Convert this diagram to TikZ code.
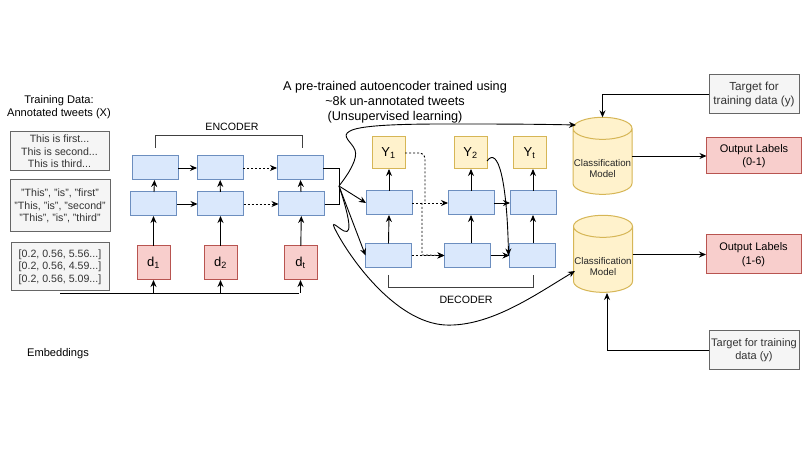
\documentclass[tikz,border=0pt]{standalone}
\usepackage{fontspec}
\setmainfont{Liberation Sans}
\usepackage{tikz}
\usetikzlibrary{arrows.meta,positioning,shapes.geometric}
\definecolor{cellfill}{HTML}{DAE8FC}
\definecolor{celldraw}{HTML}{6C8EBF}
\definecolor{redfill}{HTML}{F8CECC}
\definecolor{reddraw}{HTML}{B85450}
\definecolor{yelfill}{HTML}{FFF2CC}
\definecolor{yeldraw}{HTML}{D6B656}
\definecolor{grayfill}{HTML}{F5F5F5}
\definecolor{graydraw}{HTML}{666666}
\newcommand{\fsz}[2]{\fontsize{#1}{#2}\selectfont}

\begin{document}
\begin{tikzpicture}[
    x=1pt, y=-1pt,
    >={Stealth[length=7pt,width=6pt]},
    every node/.style={outer sep=0pt, inner sep=1pt},
    cell/.style={rectangle, draw=celldraw, fill=cellfill, line width=1pt,
                 minimum width=46pt, minimum height=24pt},
    tok/.style={rectangle, draw=reddraw, fill=redfill, line width=1pt,
                minimum width=33pt, minimum height=34pt, font=\fsz{13}{15}},
    outp/.style={rectangle, draw=yeldraw, fill=yelfill, line width=1pt,
                 minimum width=33pt, minimum height=32pt, font=\fsz{13}{15}},
    sample/.style={rectangle, draw=graydraw, fill=grayfill, line width=1pt,
                   align=center, text=black!80, font=\fsz{10.6}{12.6}},
    target/.style={sample, minimum width=90pt, minimum height=39pt},
    labels/.style={rectangle, draw=reddraw, fill=redfill, line width=1pt,
                   align=center, minimum width=95pt, font=\fsz{11}{13.5}},
    model/.style={cylinder, shape border rotate=90, aspect=11, draw=yeldraw,
                  fill=yelfill, cylinder uses custom fill,
                  cylinder body fill=yelfill, cylinder end fill=yelfill,
                  line width=1pt, minimum width=59pt, minimum height=77pt},
    modeltext/.style={font=\fsz{9.7}{11}, align=center, text=black!85},
    plain/.style={align=center, font=\fsz{11.1}{13}},
    arr/.style={->, line width=0.9pt},
    dasharr/.style={->, line width=0.9pt, dash pattern=on 2pt off 2pt},
    brace/.style={line width=1pt, draw=black!75}
  ]
  \useasboundingbox (0,0) rectangle (807,454);

  % data on the left
  \node[plain] (train) at (59,107.5) {Training Data:\\Annotated tweets (X)};
  \node[sample, minimum width=99pt, minimum height=39pt] (sents) at (59.5,151.5)
    {This is first...\\This is second...\\This is third...};
  \node[sample, minimum width=100pt, minimum height=52pt] (words) at (60,206)
    {"This", "is", "first"\\"This, "is", "second"\\"This", "is", "third"};
  \node[sample, minimum width=98pt, minimum height=48pt] (vecs) at (60,267)
    {{[0.2, 0.56, 5.56...]}\\{[0.2, 0.56, 4.59...]}\\{[0.2, 0.56, 5.09...]}};
  \node[plain] (embed) at (58,354) {Embeddings};

  % encoder
  \node[cell] (e21) at (153.5,204) {};
  \node[cell, right=21pt of e21] (e22) {};
  \node[cell, right=35pt of e22] (e23) {};
  \node[cell] (e11) at (155,168) {};
  \node[cell, right=19pt of e11] (e12) {};
  \node[cell, right=34pt of e12] (e13) {};
  \node[tok] (d1) at (153.5,263) {d\textsubscript{1}};
  \node[tok, right=34pt of d1] (d2) {d\textsubscript{2}};
  \node[tok, right=47pt of d2] (dt) {d\textsubscript{t}};
  \node[plain, font=\fsz{10.6}{12}] (enc) at (232,127) {ENCODER};
  \coordinate (ebl) at (155,148);
  \coordinate (ebr) at (302,148);
  \draw[brace] (ebl) -- (155,136) -- (302,136) -- (ebr);

  \foreach \a/\b in {d1/e21, d2/e22, dt/e23, e21/e11, e22/e12, e23/e13, e11/e12, e21/e22}
    \draw[arr] (\a) -- (\b);
  \draw[dasharr] (e12) -- (e13);
  \draw[dasharr] (e22) -- (e23);
  \coordinate (feed) at (60,293);
  \draw[line width=0.9pt] (feed) -- (299,293);
  \foreach \a in {d1,d2,dt}
    \draw[arr] (\a.south |- feed) -- (\a.south);

  % decoder
  \node[cell] (dt1) at (389,203) {};
  \node[cell, right=36pt of dt1] (dt2) {};
  \node[cell, right=16pt of dt2] (dt3) {};
  \node[cell] (db1) at (388.5,255.5) {};
  \node[cell, right=33pt of db1] (db2) {};
  \node[cell, right=19pt of db2] (db3) {};
  \node[outp] (y1) at (388.5,153) {Y\textsubscript{1}};
  \node[outp] (y2) at (470.5,153) {Y\textsubscript{2}};
  \node[outp] (yt) at (529.5,153) {Y\textsubscript{t}};
  \node[plain, font=\fsz{10.6}{12}] (dec) at (466,300) {DECODER};
  \coordinate (dbl) at (388,275);
  \coordinate (dbr) at (533,275);
  \draw[brace] (dbl) -- (388,288) -- (533,288) -- (dbr);

  \draw[arr] (db1.north) -- (dt1.south);
  \draw[arr] (dt1.north) -- (dt1.north |- y1.south);
  \draw[arr] (dt2.north) -- (dt2.north |- y2.south);
  \draw[arr] (dt3.north) -- (dt3.north |- yt.south);
  \draw[arr] (dt2.south |- db2.north) -- (dt2.south);
  \draw[arr] (dt3.south |- db3.north) -- (dt3.south);
  \draw[arr] (dt2) -- (dt3);
  \draw[arr] (db2) -- (db3);
  \draw[dasharr] (dt1) -- (dt2);
  \draw[dasharr] (db1) -- (db2);
  \coordinate (dj) at (422,203);
  \draw[dasharr] (dj) -- (422,255) -- (db2.west);
  \draw[line width=0.9pt, dash pattern=on 2pt off 2pt, rounded corners=5pt] (y1.east) -- (425,153) -- (425,203);
  \draw[arr] ([yshift=-8pt]y2.east) .. controls (498,146) and (507,180) .. ([xshift=-1pt]db3.west);

  % joining encoder and decoder
  \coordinate (join) at (339,186);
  \draw[line width=0.9pt] (e13.east) -| (join);
  \draw[line width=0.9pt] (e23.east) -| (join);
  \draw[arr] (join) -- (dt1.west);
  \draw[arr] (join) -- (db1.west);

  % classifiers
  \node[model] (m1) at (602.5,163) {};
  \node[model] (m2) at (603,261) {};
  \node[modeltext] (m1t) at (602.5,168.5) {Classification\\Model};
  \node[modeltext] (m2t) at (603,266.5) {Classification\\Model};
  \coordinate (m1in) at (576,125);
  \coordinate (m2in) at (575,271);
  \draw[arr] (join) .. controls (350,172) and (358,158) .. (355,150)
     .. controls (352,142) and (340,136) .. (350,131)
     .. controls (362,124) and (420,124) .. (450,124)
     .. controls (490,124) and (530,124) .. (m1in);
  \draw[arr] (join) .. controls (347,210) and (354,236) .. (344,231)
     .. controls (338,228) and (329,218) .. (336,231)
     .. controls (350,258) and (395,322) .. (445,325)
     .. controls (490,327) and (535,295) .. (m2in);

  % targets and labels
  \node[target, font=\fsz{11.7}{14}] (t1) at (754,94.5) {Target for\\training data (y)};
  \node[labels, minimum height=36pt] (o1) at (754,156) {Output Labels\\(0-1)};
  \node[labels, minimum height=39pt] (o2) at (753.5,254.5) {Output Labels\\(1-6)};
  \node[target, font=\fsz{11}{13.5}] (t2) at (754,350) {Target for training\\data (y)};
  \draw[arr] (t1.west) -| (m1.north);
  \draw[arr] (o1.west -| m1.east) -- (o1.west);
  \draw[arr] (o2.west -| m2.east) -- (o2.west);
  \draw[arr] (t2.west) -| (607,293);

  \node[plain, font=\fsz{12.7}{15}] (title) at (395,102)
    {A pre-trained autoencoder trained using\\\textasciitilde 8k un-annotated tweets\\(Unsupervised learning)};
\end{tikzpicture}
\end{document}
